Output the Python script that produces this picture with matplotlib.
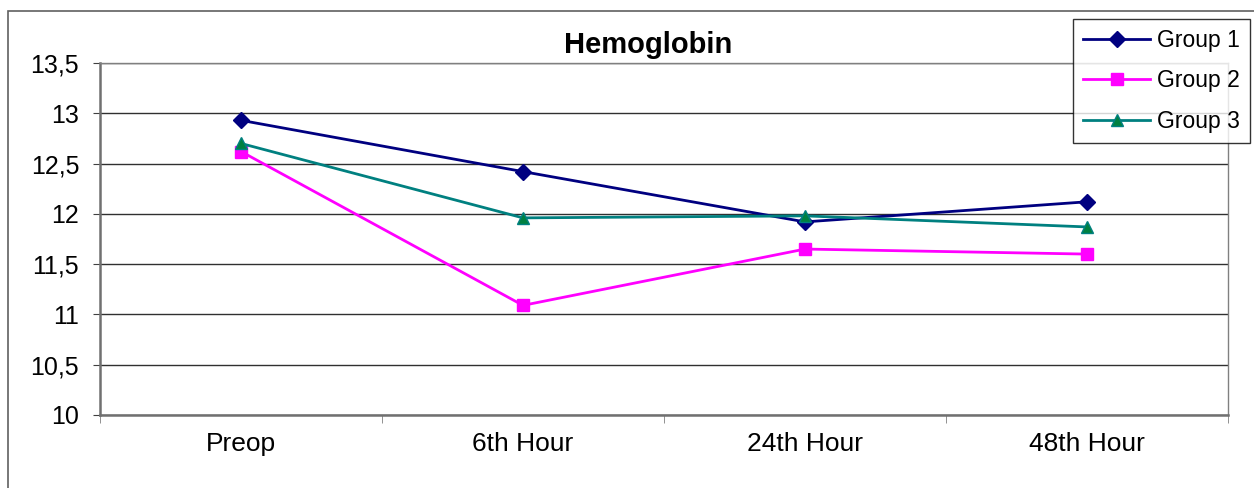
import matplotlib.pyplot as plt
from matplotlib.patches import Rectangle
from matplotlib.ticker import FixedLocator, FuncFormatter

categories = ["Preop", "6th Hour", "24th Hour", "48th Hour"]
group1 = [12.93, 12.42, 11.92, 12.12]
group2 = [12.62, 11.09, 11.65, 11.60]
group3 = [12.70, 11.96, 11.98, 11.87]

plt.rcParams["font.family"] = ["Liberation Sans", "DejaVu Sans"]


def main():
    fig = plt.figure(figsize=(12.54, 4.88), dpi=100)
    ax = fig.add_axes([100 / 1254, 1 - 415 / 488, 1128 / 1254, 352 / 488])

    x = list(range(len(categories)))
    ax.plot(x, group1, color="#000080", lw=2, marker="D", ms=8,
            mfc="#000080", mec="#000080", label="Group 1")
    ax.plot(x, group2, color="#FF00FF", lw=2, marker="s", ms=9,
            mfc="#FF00FF", mec="#FF00FF", label="Group 2")
    ax.plot(x, group3, color="#008080", lw=2, marker="^", ms=9,
            mfc="#008040", mec="#008080", label="Group 3")

    ax.set_xlim(-0.5, len(categories) - 0.5)
    ax.set_ylim(10, 13.5)
    ax.set_yticks([10 + 0.5 * i for i in range(8)])
    ax.yaxis.set_major_formatter(
        FuncFormatter(lambda v, p: f"{v:g}".replace(".", ",")))
    ax.set_xticks(x)
    ax.set_xticklabels(categories)
    ax.xaxis.set_minor_locator(FixedLocator([i - 0.5 for i in range(len(categories) + 1)]))
    ax.tick_params(axis="x", which="major", length=0, pad=12, labelsize=19)
    ax.tick_params(axis="x", which="minor", length=6, color="#808080")
    ax.tick_params(axis="y", length=5, color="#404040", labelsize=18, pad=10)

    ax.grid(True, axis="y", color="#303030", lw=1)
    ax.set_axisbelow(True)
    for side in ["left", "bottom"]:
        ax.spines[side].set_color("#707070")
        ax.spines[side].set_linewidth(1.8)
    for side in ["top", "right"]:
        ax.spines[side].set_color("#808080")
        ax.spines[side].set_linewidth(1)

    fig.text(648 / 1254, 1 - 45 / 488, "Hemoglobin", ha="center", va="center",
             fontsize=21, fontweight="bold")

    leg = fig.legend(loc="upper left", bbox_to_anchor=(1073 / 1254, 1 - 19 / 488),
                     fontsize=16.5, frameon=True, fancybox=False, borderpad=0.45,
                     labelspacing=0.75, handlelength=2.9, handletextpad=0.3,
                     borderaxespad=0)
    leg.get_frame().set_edgecolor("#000000")
    leg.get_frame().set_linewidth(1)

    fig.patches.append(Rectangle((8 / 1254, -0.1), 1.2, 1 - 11 / 488 + 0.1,
                                 transform=fig.transFigure, fill=False,
                                 edgecolor="#606060", lw=1.2))

    fig.savefig("out.png", dpi=100)
    plt.close(fig)


if __name__ == "__main__":
    main()
